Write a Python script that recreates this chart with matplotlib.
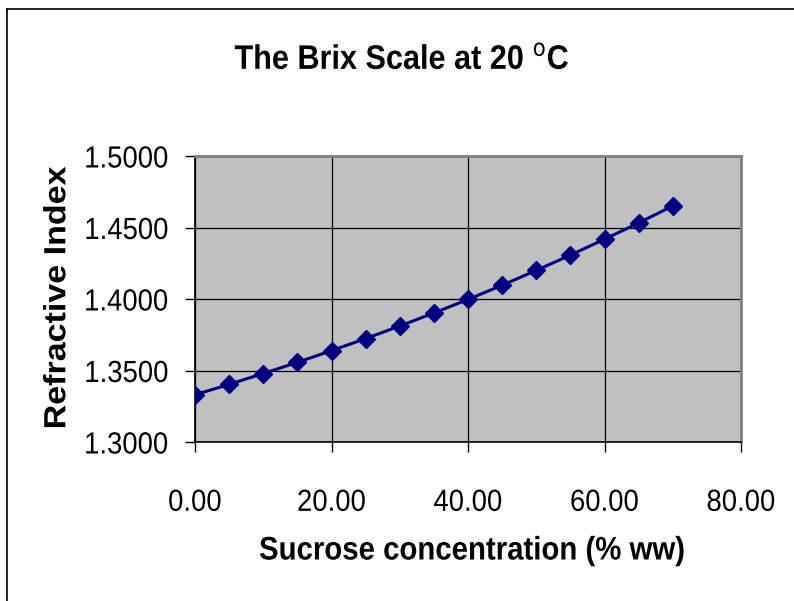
import matplotlib
matplotlib.use("Agg")
import matplotlib.pyplot as plt
from matplotlib.lines import Line2D
from matplotlib.patheffects import AbstractPathEffect
from matplotlib.transforms import Affine2D

sucrose = [0, 5, 10, 15, 20, 25, 30, 35, 40, 45, 50, 55, 60, 65, 70]
refr_index = [1.3330, 1.3403, 1.3479, 1.3557, 1.3639, 1.3723, 1.3811, 1.3902,
              1.3997, 1.4096, 1.4200, 1.4307, 1.4418, 1.4532, 1.4651]
x_ticks = [0, 20, 40, 60, 80]
y_ticks = [1.30, 1.35, 1.40, 1.45, 1.50]


class Squeeze(AbstractPathEffect):
    """Horizontally condense text (display x) about a chosen anchor."""
    def __init__(self, sx=0.9, anchor="center"):
        super().__init__()
        self.sx = sx
        self.anchor = anchor

    def draw_path(self, renderer, gc, tpath, affine, rgbFace=None):
        ext = tpath.get_extents(affine)
        if self.anchor == "right":
            cx = ext.x1
        elif self.anchor == "left":
            cx = ext.x0
        else:
            cx = 0.5 * (ext.x0 + ext.x1)
        new = affine + Affine2D().translate(-cx, 0).scale(self.sx, 1).translate(cx, 0)
        renderer.draw_path(gc, tpath, new, rgbFace)


FONT = "Liberation Sans"
W, H = 794, 601
fig = plt.figure(figsize=(W / 100, H / 100), dpi=100)
ax = fig.add_axes([195 / W, 1 - 442 / H, (741 - 195) / W, (442 - 156) / H])
ax.set_facecolor("#c0c0c0")

ax.plot(sucrose, refr_index, color="#000080", lw=2.2, marker="D",
        markersize=9.5, markerfacecolor="#000080", markeredgecolor="#000080", zorder=3)

ax.set_xlim(0, 80)
ax.set_ylim(1.3, 1.5)
ax.set_xticks(x_ticks)
ax.set_yticks(y_ticks)
ax.set_xticklabels([f"{v:.2f}" for v in x_ticks])
ax.set_yticklabels([f"{v:.4f}" for v in y_ticks])
ax.grid(True, color="black", lw=0.9, zorder=1)
ax.set_axisbelow(True)

for s in ["top", "right"]:
    ax.spines[s].set_color("#808080")
    ax.spines[s].set_linewidth(2)
for s in ["left", "bottom"]:
    ax.spines[s].set_color("black")
    ax.spines[s].set_linewidth(1.2)

ax.tick_params(axis="both", direction="out", length=7, width=1, colors="black",
               labelsize=22)
ax.tick_params(axis="y", pad=12)
ax.tick_params(axis="x", pad=26)
for lab in ax.get_xticklabels():
    lab.set_family(FONT)
    lab.set_path_effects([Squeeze(0.9, "center")])
for lab in ax.get_yticklabels():
    lab.set_family(FONT)
    lab.set_path_effects([Squeeze(0.9, "right")])

t = fig.text(402 / W, 1 - 60 / H, "The Brix Scale at 20 $^{\\mathrm{o}}$C", ha="center",
             va="center", fontsize=24.5, fontweight="bold", family=FONT)
t.set_path_effects([Squeeze(0.9)])
xl = fig.text(472 / W, 1 - 551 / H, "Sucrose concentration (% ww)", ha="center",
              va="center", fontsize=23.5, fontweight="bold", family=FONT)
xl.set_path_effects([Squeeze(0.9)])
yl = fig.text(58 / W, 1 - 298 / H, "Refractive Index", ha="center", va="center",
              rotation=90, fontsize=24.5, fontweight="bold", family=FONT)
yl.set_path_effects([Squeeze(0.9)])

# outer chart frame
fig.add_artist(Line2D([7 / W, 1.0], [1 - 9 / H, 1 - 9 / H], transform=fig.transFigure,
                      color="black", lw=1.2))
fig.add_artist(Line2D([7 / W, 7 / W], [0, 1 - 9 / H], transform=fig.transFigure,
                      color="black", lw=1.2))

fig.savefig("out.png", dpi=100)
